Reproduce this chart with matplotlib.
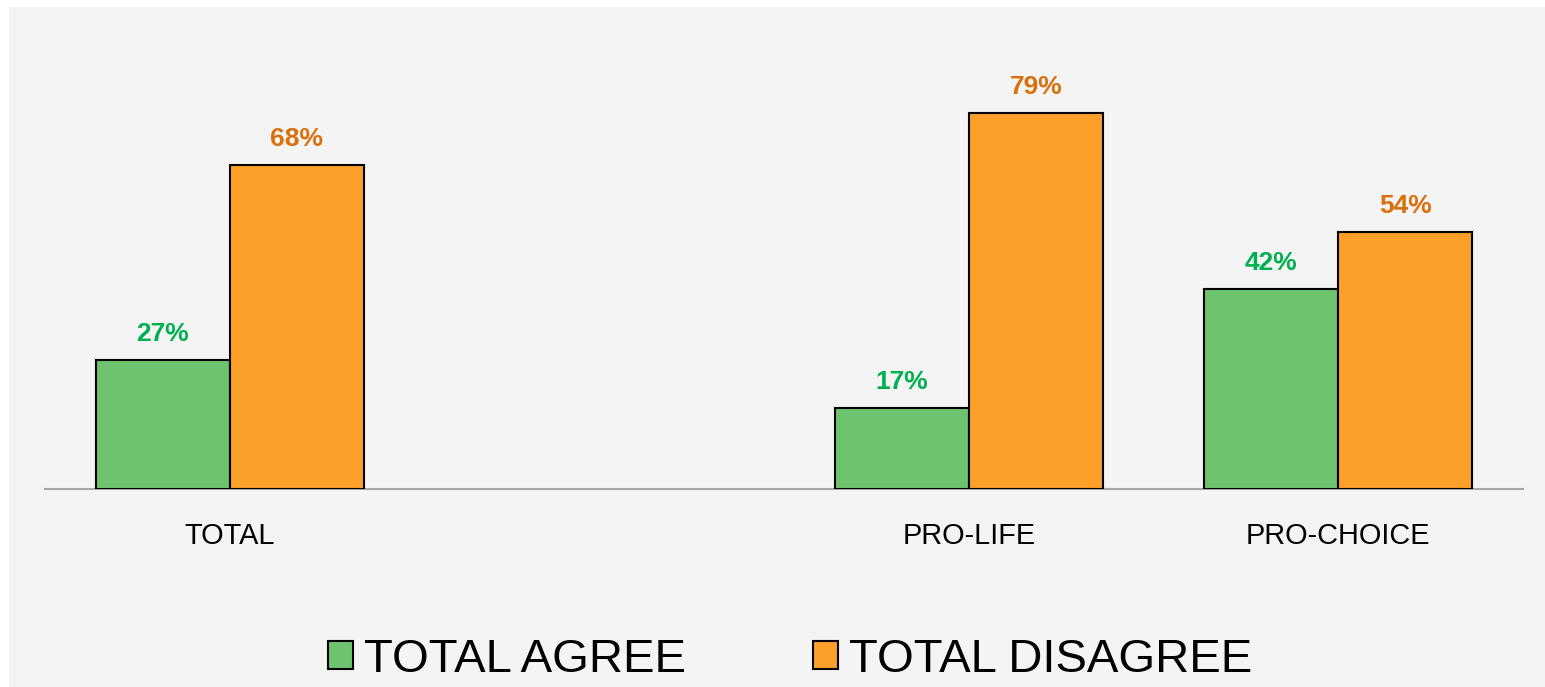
import matplotlib.pyplot as plt
from matplotlib.patches import Rectangle, Patch
import numpy as np

plt.rcParams['font.family'] = ['Liberation Sans', 'DejaVu Sans']

# --- datos ---
categorias = ['TOTAL', '', 'PRO-LIFE', 'PRO-CHOICE']
agree = [27, None, 17, 42]
disagree = [68, None, 79, 54]
series = ['TOTAL AGREE', 'TOTAL DISAGREE']

verde = '#6EC46E'
naranja = '#FCA02A'
verde_txt = '#00B050'
naranja_txt = '#D9700C'

W, H = 1545, 687
fig = plt.figure(figsize=(W / 100, H / 100), dpi=100, facecolor='white')
# panel gris de fondo
fig.patches.append(Rectangle((9 / W, 0), 1 - 9 / W, (H - 7) / H,
                             transform=fig.transFigure, facecolor='#F4F4F4',
                             edgecolor='none', zorder=-10))

ax = fig.add_axes([45 / W, (H - 489) / H, 1478 / W, 429 / H])
ax.set_facecolor('none')

x = np.arange(len(categorias))
ancho = 0.3627

for i in range(len(categorias)):
    if agree[i] is None:
        continue
    ax.bar(x[i] - ancho / 2, agree[i], ancho, color=verde, edgecolor='black', linewidth=1.5, zorder=3)
    ax.bar(x[i] + ancho / 2, disagree[i], ancho, color=naranja, edgecolor='black', linewidth=1.5, zorder=3)
    ax.text(x[i] - ancho / 2, agree[i] + 3.0, f'{agree[i]}%', ha='center', va='bottom',
            fontsize=19, fontweight='bold', color=verde_txt)
    ax.text(x[i] + ancho / 2, disagree[i] + 3.0, f'{disagree[i]}%', ha='center', va='bottom',
            fontsize=19, fontweight='bold', color=naranja_txt)

ax.set_xlim(-0.5, 3.5)
ax.set_ylim(0, 90.1)
ax.set_yticks([])
ax.set_xticks(x)
ax.set_xticklabels(categorias, fontsize=20.8)
ax.tick_params(axis='x', length=0, pad=24)
for s in ['top', 'right', 'left']:
    ax.spines[s].set_visible(False)
ax.spines['bottom'].set_color('#A6A6A6')
ax.spines['bottom'].set_linewidth(1.5)

handles = [Patch(facecolor=verde, edgecolor='black', linewidth=1.5),
           Patch(facecolor=naranja, edgecolor='black', linewidth=1.5)]
fig.legend(handles, series, loc='center', bbox_to_anchor=(790 / W, (H - 660) / H),
           ncol=2, frameon=False, fontsize=34, handlelength=0.53, handleheight=0.53,
           handletextpad=0.23, columnspacing=2.7)

fig.savefig('out.png', dpi=100, facecolor=fig.get_facecolor())
